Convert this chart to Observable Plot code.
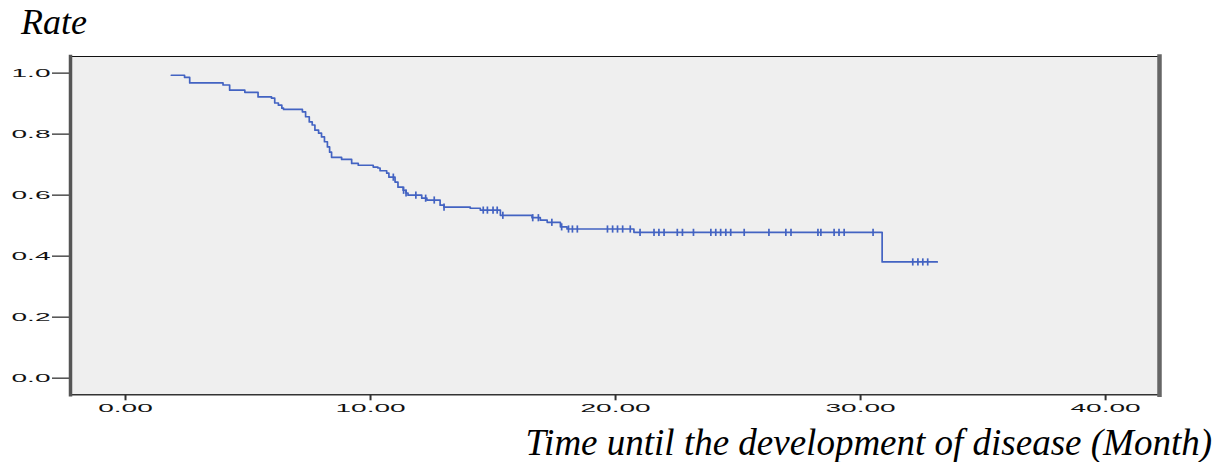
<!DOCTYPE html>
<html>
<head>
<meta charset="utf-8">
<script src="https://cdn.jsdelivr.net/npm/d3@7"></script>
<script src="https://cdn.jsdelivr.net/npm/@observablehq/plot@0.6"></script>
<style>
  html, body { margin: 0; padding: 0; background: #fff; width: 1219px; height: 462px; overflow: hidden; }
  #title { position: relative; height: 46px; }
  #title span { position: absolute; left: 21px; top: 4px; font: italic 36px/36px "Liberation Serif", "Times New Roman", serif; color: #000; }
  #chart { height: 374px; }
  #caption { position: relative; height: 42px; }
  #caption span { position: absolute; right: 7px; top: 4px; font: italic 37px/37px "Liberation Serif", "Times New Roman", serif; color: #000; white-space: nowrap; }
</style>
</head>
<body>
<div id="title"><span>Rate</span></div>
<div id="chart"></div>
<div id="caption"><span>Time until the development of disease (Month)</span></div>
<script>
// Kaplan–Meier step times (months) and survival after each step
const stepTimes = [1.87, 2.41, 2.62, 3.98, 4.25, 4.87, 5.41, 5.96, 6.09, 6.24,
                   6.38, 6.45, 7.22, 7.35, 7.50, 7.62, 7.73, 7.88, 8.00, 8.12,
                   8.24, 8.33, 8.41, 8.82, 9.23, 9.50, 10.11, 10.30, 10.39, 10.66,
                   10.75, 11.00, 11.12, 11.33, 11.45, 11.53, 12.09, 12.30, 12.84, 13.00,
                   14.07, 14.48, 15.30, 16.59, 16.93, 17.21, 17.75, 18.02, 20.75, 30.88];
const stepSurv  = [0.993, 0.986, 0.968, 0.961, 0.944, 0.937, 0.922, 0.918, 0.902, 0.895,
                   0.885, 0.881, 0.873, 0.857, 0.840, 0.830, 0.813, 0.803, 0.791, 0.775,
                   0.758, 0.741, 0.724, 0.717, 0.704, 0.698, 0.692, 0.689, 0.680, 0.672,
                   0.659, 0.643, 0.626, 0.616, 0.607, 0.600, 0.590, 0.584, 0.567, 0.561,
                   0.557, 0.551, 0.534, 0.526, 0.518, 0.511, 0.496, 0.489, 0.478, 0.381];
const lastTime = 33.13;
// censored observations (months)
const censorTimes = [10.93, 11.35, 11.45, 11.85, 12.25, 12.6, 13.0, 14.6, 14.77, 15.0,
                     15.17, 15.4, 16.62, 16.85, 17.4, 17.8, 18.08, 18.24, 18.44, 19.67,
                     19.88, 20.08, 20.29, 20.6, 21.0, 21.57, 21.77, 21.98, 22.52, 22.73,
                     23.18, 23.89, 24.09, 24.29, 24.5, 24.7, 25.25, 26.26, 26.95, 27.16,
                     28.26, 28.38, 28.92, 29.12, 29.33, 30.51, 32.13, 32.34, 32.54, 32.74];
const xTicks = [0, 10, 20, 30, 40];
const yTicks = [0, 0.2, 0.4, 0.6, 0.8, 1.0];
const xDomain = [-2.245, 42.2];
const yDomain = [-0.0545, 1.0545];

const curve = stepTimes.map((t, i) => ({t, s: stepSurv[i]}));
curve.push({t: lastTime, s: stepSurv[stepSurv.length - 1]});
const survAt = t => stepSurv[Math.max(0, d3.bisectRight(stepTimes, t) - 1)];
const censors = censorTimes.map(t => ({t, s: survAt(t)}));

const vbar = {
  draw(context, size) {
    const r = Math.sqrt(size / Math.PI);
    context.moveTo(0, -r);
    context.lineTo(0, r);
  }
};

const lineColor = "#4363c2";

const chart = Plot.plot({
  width: 1219,
  height: 374,
  marginTop: 10,
  marginBottom: 25.7,
  marginLeft: 70,
  marginRight: 60,
  style: {fontFamily: "'Liberation Sans', Arial, sans-serif", background: "transparent"},
  x: {domain: xDomain, label: null},
  y: {domain: yDomain, label: null},
  marks: [
    Plot.frame({fill: "#efefef", stroke: null}),
    Plot.axisX({ticks: xTicks, tickFormat: d => d.toFixed(2), tickSize: 6, tickPadding: 3,
                strokeWidth: 2, stroke: "#333", fontSize: 11, fill: "#111", label: null}),
    Plot.axisY({ticks: yTicks, tickFormat: d => d.toFixed(1), tickSize: 18, tickPadding: 2,
                strokeWidth: 1.3, stroke: "#333", fontSize: 11, fill: "#111", label: null}),
    Plot.line(curve, {x: "t", y: "s", curve: "step-after", stroke: lineColor, strokeWidth: 1.7}),
    Plot.dot(censors, {x: "t", y: "s", symbol: vbar, r: 3.6, stroke: lineColor, strokeWidth: 1.7, fill: null}),
    Plot.frame({anchor: "top", stroke: "#111", strokeWidth: 1.2}),
    Plot.frame({anchor: "bottom", stroke: "#333", strokeWidth: 1.5}),
    Plot.frame({anchor: "left", stroke: "#555", strokeWidth: 3.5}),
    Plot.frame({anchor: "right", stroke: "#666", strokeWidth: 4.5})
  ]
});

// stretch tick labels horizontally like the original
d3.select(chart).selectAll("g[aria-label$='tick label'] text").each(function() {
  const tr = this.getAttribute("transform") || "";
  this.setAttribute("transform", tr + " scale(2.55,1)");
});

document.getElementById("chart").appendChild(chart);
</script>
</body>
</html>
